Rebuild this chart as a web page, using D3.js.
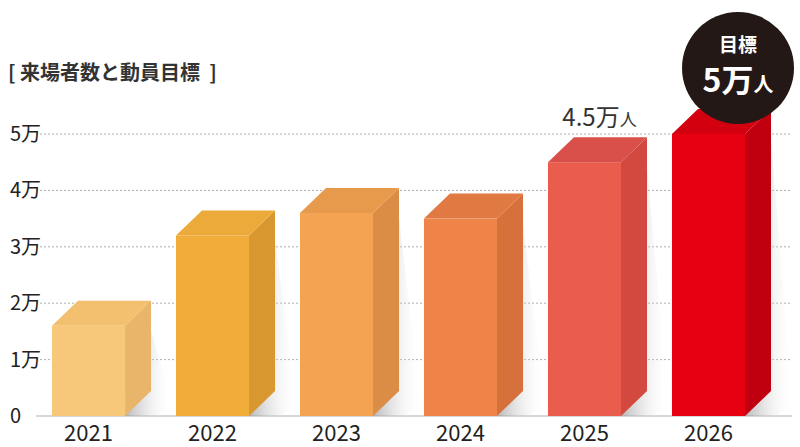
<!DOCTYPE html>
<html><head><meta charset="utf-8">
<script src="https://cdn.jsdelivr.net/npm/d3@7"></script>
<style>body{margin:0;background:#fff}</style>
</head><body>
<script>
// data
var years = ["2021","2022","2023","2024","2025","2026"];
var visitors = [1.6, 3.2, 3.6, 3.5, 4.5, 5.0]; // 万人
var tickValues = [0,1,2,3,4,5];
var tickLabels = ["0","1万","2万","3万","4万","5万"];
var frontColors = ["#f7c87a","#f2ac3a","#f3a352","#ef8449","#ea5d4d","#e60012"];
var sideColors  = ["#e8b56a","#d9982f","#db8d45","#d6713b","#d3483f","#c0000f"];
var topColors   = ["#f2c06e","#ecaa3a","#e89a4c","#e07a42","#d9504a","#d30010"];

var W = 800, H = 447;
var svg = d3.select("body").append("svg").attr("width", W).attr("height", H)
	.style("font-family", "'Noto Sans CJK JP','Noto Sans',sans-serif");

var y = d3.scaleLinear().domain([0,5]).range([416,134]);
var x = d3.scaleBand().domain(years).range([52,745]).paddingInner(0.411).paddingOuter(0);
var dx = 26, dy = 25;

var defs = svg.append("defs");
var g = defs.append("linearGradient").attr("id","shade").attr("x1",0).attr("x2",1).attr("y1",0).attr("y2",0);
g.append("stop").attr("offset","0%").attr("stop-color","#999").attr("stop-opacity",0.7);
g.append("stop").attr("offset","100%").attr("stop-color","#fff").attr("stop-opacity",0);

// gridlines
svg.selectAll("line.grid").data(tickValues).enter().append("line")
	.attr("x1",36).attr("x2",792)
	.attr("y1",function(d){return y(d);}).attr("y2",function(d){return y(d);})
	.attr("stroke","#999").attr("stroke-width",0.8)
	.attr("stroke-dasharray", function(d){ return d === 0 ? null : "2,2"; });

// tick labels
svg.selectAll("text.tick").data(tickValues).enter().append("text")
	.attr("x",10).attr("y",function(d){return y(d)+7;})
	.attr("font-size",20).attr("fill","#222")
	.text(function(d,i){return tickLabels[i];});

// shadows
svg.selectAll("path.shadow").data(visitors).enter().append("path")
	.attr("fill","url(#shade)")
	.attr("d", function(d,i){
		var x1 = x(years[i]) + x.bandwidth();
		return "M"+x1+","+y(0)+" L"+(x1+dx)+","+(y(d)+dy*0.2)+" L"+(x1+dx+22)+","+(y(0)-10)+" L"+(x1+30)+","+y(0)+"Z";
	});

var bars = svg.selectAll("g.bar").data(visitors).enter().append("g");
bars.append("rect")
	.attr("x",function(d,i){return x(years[i]);})
	.attr("y",function(d){return y(d);})
	.attr("width",x.bandwidth())
	.attr("height",function(d){return y(0)-y(d);})
	.attr("fill",function(d,i){return frontColors[i];});
bars.append("path")
	.attr("fill",function(d,i){return sideColors[i];})
	.attr("d",function(d,i){
		var x1 = x(years[i]) + x.bandwidth();
		return "M"+x1+","+y(d)+" L"+(x1+dx)+","+(y(d)-dy)+" L"+(x1+dx)+","+(y(0)-dy)+" L"+x1+","+y(0)+"Z";
	});
bars.append("path")
	.attr("fill",function(d,i){return topColors[i];})
	.attr("d",function(d,i){
		var x0 = x(years[i]), x1 = x0 + x.bandwidth();
		return "M"+x0+","+y(d)+" L"+(x0+dx)+","+(y(d)-dy)+" L"+(x1+dx)+","+(y(d)-dy)+" L"+x1+","+y(d)+"Z";
	});

// year labels
svg.selectAll("text.year").data(years).enter().append("text")
	.attr("x",function(d){return x(d)+x.bandwidth()/2;}).attr("y",441)
	.attr("text-anchor","middle").attr("font-size",22).attr("fill","#222")
	.text(function(d){return d;});

// title
svg.append("text").attr("x",8).attr("y",80).attr("font-size",20).attr("font-weight","bold").attr("fill","#333")
	.attr("xml:space","preserve").text("[ 来場者数と動員目標  ]");

// 2025 annotation
var a = svg.append("text").attr("x",x("2025")+x.bandwidth()/2+15).attr("y",126)
	.attr("text-anchor","middle").attr("fill","#333");
a.append("tspan").attr("font-size",24).text("4.5万");
a.append("tspan").attr("font-size",17).text("人");

// target badge
svg.append("circle").attr("cx",738).attr("cy",68).attr("r",56).attr("fill","#231815");
svg.append("text").attr("x",738).attr("y",52).attr("text-anchor","middle")
	.attr("font-size",19).attr("font-weight","bold").attr("fill","#fff").text("目標");
var b = svg.append("text").attr("x",738).attr("y",92).attr("text-anchor","middle")
	.attr("font-weight","bold").attr("fill","#fff");
b.append("tspan").attr("font-size",32).text("5万");
b.append("tspan").attr("font-size",20).text("人");
</script>
</body></html>
